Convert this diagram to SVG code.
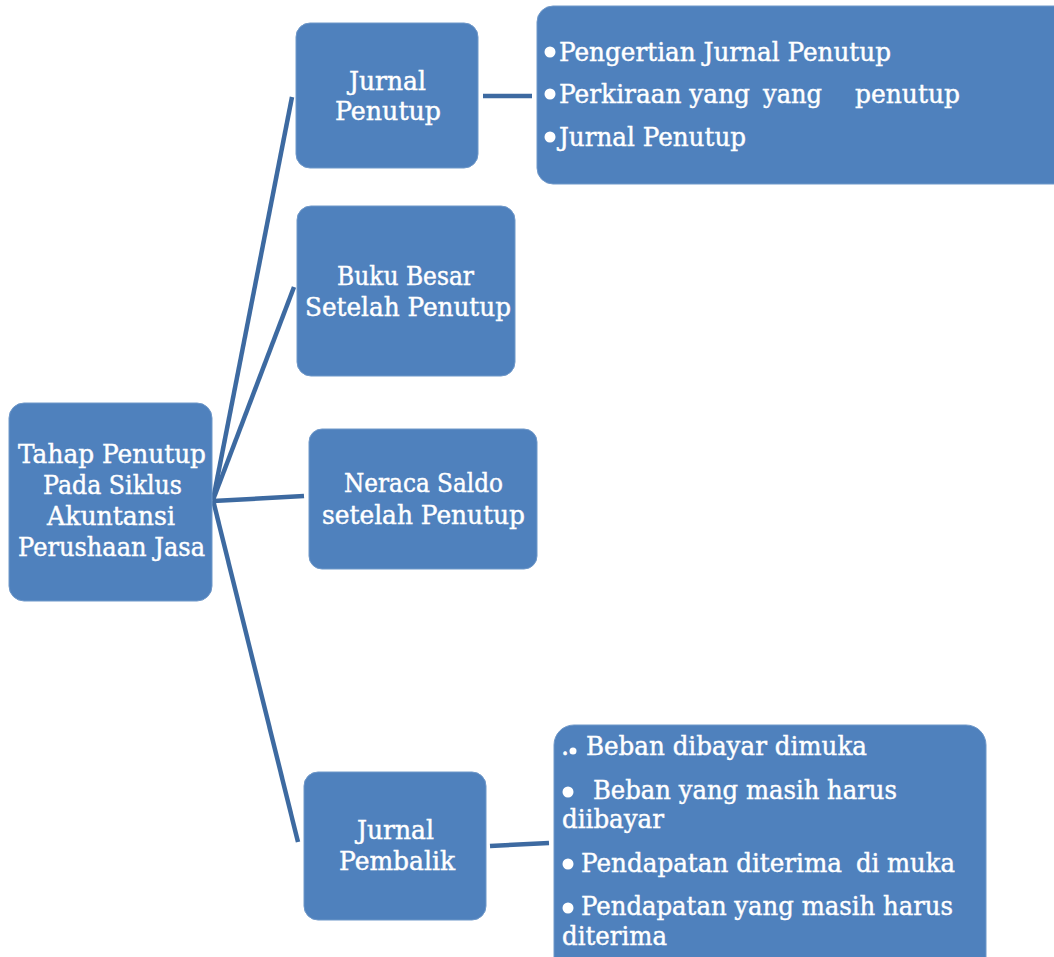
<svg xmlns="http://www.w3.org/2000/svg" width="1054" height="957" viewBox="0 0 1054 957">
<style>
.box{fill:#4F81BD;stroke:#6f98c9;stroke-width:1}
.t{font-family:"DejaVu Serif","Liberation Serif",serif;font-size:25.5px;fill:#ffffff;stroke:#ffffff;stroke-width:0.45}
.c{stroke:#3d6aa1;stroke-width:4.5;fill:none}
.b{fill:#ffffff}
</style>
<rect width="1054" height="957" fill="#ffffff"/>
<g id="connectors">
<line class="c" x1="213" y1="500" x2="292" y2="97"/>
<line class="c" x1="213" y1="500" x2="294" y2="287"/>
<line class="c" x1="213" y1="501" x2="304" y2="496"/>
<line class="c" x1="213" y1="500" x2="298" y2="842"/>
<line class="c" x1="483" y1="96" x2="532" y2="96" stroke-width="5"/>
<line class="c" x1="490" y1="846" x2="549" y2="843" stroke-width="5"/>
</g>
<g id="root">
<rect class="box" x="9" y="403" width="203" height="198" rx="15"/>
<text class="t" x="18" y="463" textLength="188" lengthAdjust="spacingAndGlyphs">Tahap Penutup</text>
<text class="t" x="43" y="494" textLength="139" lengthAdjust="spacingAndGlyphs">Pada Siklus</text>
<text class="t" x="47" y="525" textLength="128" lengthAdjust="spacingAndGlyphs">Akuntansi</text>
<text class="t" x="18" y="556" textLength="187" lengthAdjust="spacingAndGlyphs">Perushaan Jasa</text>
</g>
<g id="jurnal-penutup">
<rect class="box" x="296" y="23" width="182" height="145" rx="14"/>
<text class="t" x="349" y="90" textLength="77" lengthAdjust="spacingAndGlyphs">Jurnal</text>
<text class="t" x="335" y="120" textLength="106" lengthAdjust="spacingAndGlyphs">Penutup</text>
</g>
<g id="jurnal-penutup-detail">
<rect class="box" x="537" y="6" width="540" height="178" rx="16"/>
<circle class="b" cx="550" cy="52" r="5.5"/>
<text class="t" x="559" y="61" textLength="332" lengthAdjust="spacingAndGlyphs">Pengertian Jurnal Penutup</text>
<circle class="b" cx="550" cy="94" r="5.5"/>
<text class="t" x="559" y="103" textLength="191" lengthAdjust="spacingAndGlyphs">Perkiraan yang</text>
<text class="t" x="763" y="103" textLength="59" lengthAdjust="spacingAndGlyphs">yang</text>
<text class="t" x="855" y="103" textLength="105" lengthAdjust="spacingAndGlyphs">penutup</text>
<circle class="b" cx="550" cy="137" r="5.5"/>
<text class="t" x="559" y="146" textLength="187" lengthAdjust="spacingAndGlyphs">Jurnal Penutup</text>
</g>
<g id="buku-besar">
<rect class="box" x="297" y="206" width="218" height="170" rx="14"/>
<text class="t" x="337" y="285" textLength="137" lengthAdjust="spacingAndGlyphs">Buku Besar</text>
<text class="t" x="305" y="316" textLength="206" lengthAdjust="spacingAndGlyphs">Setelah Penutup</text>
</g>
<g id="neraca-saldo">
<rect class="box" x="309" y="429" width="228" height="140" rx="13"/>
<text class="t" x="344" y="492" textLength="159" lengthAdjust="spacingAndGlyphs">Neraca Saldo</text>
<text class="t" x="322" y="524" textLength="203" lengthAdjust="spacingAndGlyphs">setelah Penutup</text>
</g>
<g id="jurnal-pembalik">
<rect class="box" x="304" y="772" width="182" height="148" rx="14"/>
<text class="t" x="357" y="839" textLength="77" lengthAdjust="spacingAndGlyphs">Jurnal</text>
<text class="t" x="339" y="870" textLength="116" lengthAdjust="spacingAndGlyphs">Pembalik</text>
</g>
<g id="jurnal-pembalik-detail">
<rect class="box" x="554" y="725" width="432" height="260" rx="20"/>
<text class="t" x="561" y="755">.</text>
<circle class="b" cx="573" cy="751" r="3.5"/>
<text class="t" x="586" y="755" textLength="281" lengthAdjust="spacingAndGlyphs">Beban dibayar dimuka</text>
<circle class="b" cx="568" cy="792" r="5.5"/>
<text class="t" x="593" y="799" textLength="304" lengthAdjust="spacingAndGlyphs">Beban yang masih harus</text>
<text class="t" x="562" y="828" textLength="102" lengthAdjust="spacingAndGlyphs">diibayar</text>
<circle class="b" cx="568" cy="864" r="5.5"/>
<text class="t" x="581" y="872" textLength="261" lengthAdjust="spacingAndGlyphs">Pendapatan diterima</text>
<text class="t" x="856" y="872" textLength="99" lengthAdjust="spacingAndGlyphs">di muka</text>
<circle class="b" cx="568" cy="908" r="5.5"/>
<text class="t" x="581" y="915" textLength="372" lengthAdjust="spacingAndGlyphs">Pendapatan yang masih harus</text>
<text class="t" x="562" y="945" textLength="105" lengthAdjust="spacingAndGlyphs">diterima</text>
</g>
</svg>
